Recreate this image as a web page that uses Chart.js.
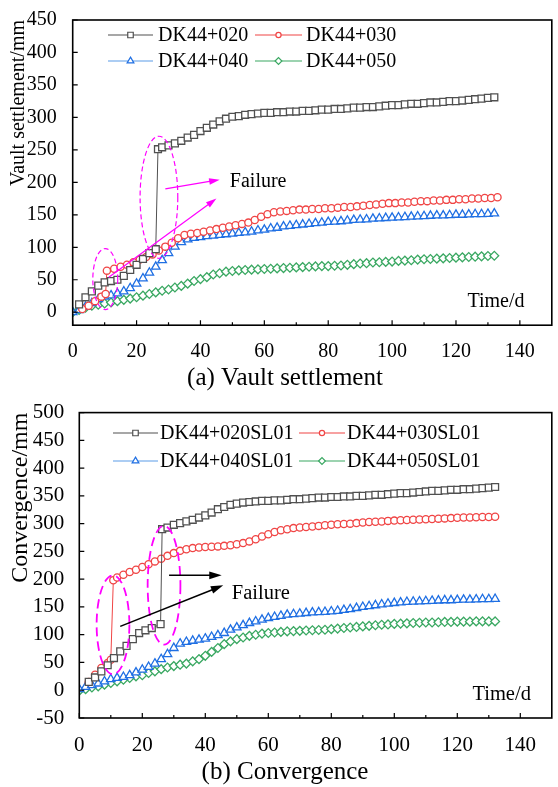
<!DOCTYPE html>
<html>
<head>
<meta charset="utf-8">
<script src="https://cdn.jsdelivr.net/npm/chart.js@4.4.0/dist/chart.umd.min.js"></script>
<style>
  body { margin: 0; background: #fff; width: 558px; }
  canvas { display: block; }
</style>
</head>
<body>
<canvas id="vault" width="558" height="393"></canvas>
<canvas id="conv" width="558" height="394"></canvas>
<script>
// days shared by most series (every 2 days)
var evenDays = [0,2,4,6,8,10,12,14,16,18,20,22,24,26,28,30,32,34,36,38,40,42,44,46,48,50,52,54,56,58,60,62,64,66,
    68,70,72,74,76,78,80,82,84,86,88,90,92,94,96,98,100,102,104,106,108,110,112,114,116,118,120,122,124,126,128,130,132];

// (a) vault settlement, mm
var daysA020 = [2,4,6,8,10,12,14,16,18,20,22,24,26,26.7].concat(evenDays.slice(14));
var vaultA020 = [12,23,32,41,46,48,50,56,65,73,82,91,97,251,
    254,257,260,264,269,273,279,284,289,294,298,301,302,304,305,306,307,307,308,308,
    309,309,310,310,311,312,312,313,313,314,315,315,316,316,317,318,319,319,320,321,
    321,322,323,323,324,325,325,326,327,328,329,330,331];
var daysA030 = [3,5,7,9,10.3,10.7,13,15,17,19,21,23,25,27,29,31,33,35,37,39,41,43,45,47,49,51,53,55,57,59,61,63,65,67,
    69,71,73,75,77,79,81,83,85,87,89,91,93,95,97,99,101,103,105,107,109,111,113,115,117,119,121,123,125,127,129,131,133];
var vaultA030 = [5,10,17,24,28,64,
    67,70,73,77,81,85,89,95,101,107,114,119,121,122,124,126,128,130,132,134,
    136,138,142,147,151,154,155,156,157,158,158,159,159,160,160,161,162,162,163,164,
    165,166,167,168,168,169,169,170,171,171,172,172,173,173,174,174,175,175,176,176,177];
var vaultA040 = [0,3,8,14,20,24,26,29,32,37,44,52,61,70,80,91,101,108,112,114.5,
    115.5,117,118,119,120,121,122,123,124,126,127,129,130,132,133,134,135,136,137,138,
    139,139.5,140,141,142,142.5,143,144,144.5,145,145.5,146,146.5,147,147.5,148,148.5,149,149,149.5,
    150,150,150.5,151,151,151.5,152];
var vaultA050 = [0,3.5,7,10,11.5,13.5,15,17,19,21,23,25.5,28,30.5,33,35,38,40.5,44,48,
    51,54,58,60,62.5,63.5,64.5,65,65.5,66,66.5,67,67.5,68,68.5,69,69.5,70,70.5,71,
    71,71.5,72,73,74,75,75.5,76.5,77,77.5,78,79,79.5,80,81,81.5,82,82.5,83,83.5,
    84,84.5,85,85.5,86,86.5,87];

// (b) convergence, mm
var daysB020 = [3,5,7,9,11,13,15,17,19,21,23,25.8,26.3].concat(evenDays.slice(14));
var convB020 = [15,23,34,45,58,70,80,92,103,108,112,119,290,
    293,298,301,304,307,311,315,320,326,330,334,336,338,339,340,341,341,342,342,343,
    344,344,345,346,347,347,348,348,349,349,350,350,351,352,352,353,354,355,355,356,
    357,358,359,359,360,361,361,362,362,363,364,365,366];
var daysB030 = [3,5,7,9,10,10.8].concat(evenDays.slice(6));
var convB030 = [15,28,40,49,55,198,
    203,208,213,217,222,227,232,237,242,247,251,254,256,257,258,258.5,259,260,261,263,
    265,268,272,277,281,285,288,290,292,293,294,295,296,297,298,299,299.5,300,301,302,
    303,303.5,304,305,305.5,306,306.5,307,307.5,308,308.5,309,309.5,310,310.5,311,311,311.5,312,312,312.5];
var convB040 = [2,6,9,12,16,20,22,24,27,32,37,42,48,56,65,76,84,87,89,91,
    93,96,99,103,109,113,117,121,124,127,130,132,134,136,137,138,139,140,140.5,141,
    142,143,144.5,146,148,150,151.5,153,154.5,156,157,158,159,159.5,160,160.5,161,161.5,162,162,
    162.5,163,163,163.5,164,164,164.5];
var convB050 = [-1,2,5,7,10,13,16,19,22,25,27,31,34,38,41,43.5,46,48,52,56,
    62,69,76,83,88,92,95,98,100,102,103,104,105,106,106.5,107,107.5,108,108.5,109,
    110,111,112,113,114,115,116,117,118,118.5,119.5,120,120.5,121,121.5,122,122,122.5,123,123,
    123.5,123.5,123.5,124,124,124,124];

var SERIF = '"Liberation Serif", "Times New Roman", serif';
Chart.defaults.font.family = SERIF;
Chart.defaults.color = '#000';

function series(label, days, values, color, lineColor, style, radius) {
    return {
        label: label,
        data: days.map(function (d, i) { return { x: d, y: values[i] }; }),
        borderColor: lineColor,
        borderWidth: 1,
        pointStyle: style,
        pointRadius: radius,
        pointBorderColor: color,
        pointBackgroundColor: '#fff',
        pointBorderWidth: 1.3,
        tension: 0
    };
}

function arrow(ctx, x1, y1, x2, y2, head, color, width) {
    var a = Math.atan2(y2 - y1, x2 - x1);
    ctx.strokeStyle = color;
    ctx.fillStyle = color;
    ctx.lineWidth = width;
    ctx.setLineDash([]);
    ctx.beginPath();
    ctx.moveTo(x1, y1);
    ctx.lineTo(x2 - head * 0.8 * Math.cos(a), y2 - head * 0.8 * Math.sin(a));
    ctx.stroke();
    ctx.beginPath();
    ctx.moveTo(x2, y2);
    ctx.lineTo(x2 - head * Math.cos(a - 0.3), y2 - head * Math.sin(a - 0.3));
    ctx.lineTo(x2 - head * Math.cos(a + 0.3), y2 - head * Math.sin(a + 0.3));
    ctx.closePath();
    ctx.fill();
}

// frame, inward ticks, legend, notes and caption
var figureExtras = {
    id: 'figureExtras',
    afterDatasetsDraw: function (chart, args, o) {
        var ctx = chart.ctx, x = chart.scales.x, y = chart.scales.y;
        ctx.save();
        ctx.strokeStyle = '#ff00ff';
        ctx.lineWidth = o.ellipseWidth;
        ctx.setLineDash(o.dash);
        o.ellipses.forEach(function (e) {
            var cx = x.getPixelForValue(e[0]), cy = y.getPixelForValue(e[1]);
            var rx = Math.abs(x.getPixelForValue(e[0] + e[2]) - cx);
            var ry = Math.abs(y.getPixelForValue(e[1] + e[3]) - cy);
            ctx.beginPath();
            ctx.ellipse(cx, cy, rx, ry, 0, 0, Math.PI * 2);
            ctx.stroke();
        });
        o.arrows.forEach(function (a) {
            arrow(ctx, x.getPixelForValue(a[0]), y.getPixelForValue(a[1]),
                x.getPixelForValue(a[2]), y.getPixelForValue(a[3]), o.head, o.arrowColor, o.arrowWidth);
        });
        ctx.restore();
    },
    afterDraw: function (chart, args, o) {
        var ctx = chart.ctx, area = chart.chartArea, x = chart.scales.x, y = chart.scales.y;
        ctx.save();
        ctx.strokeStyle = '#000';
        ctx.lineWidth = 1.2;
        ctx.beginPath();
        x.ticks.forEach(function (t) {
            var px = x.getPixelForValue(t.value);
            ctx.moveTo(px, area.bottom); ctx.lineTo(px, area.bottom - 5);
            if (t.value + 10 < x.max) {
                px = x.getPixelForValue(t.value + 10);
                ctx.moveTo(px, area.bottom); ctx.lineTo(px, area.bottom - 3);
            }
        });
        y.ticks.forEach(function (t) {
            var py = y.getPixelForValue(t.value);
            ctx.moveTo(area.left, py); ctx.lineTo(area.left + 5, py);
        });
        ctx.stroke();
        ctx.lineWidth = 1.6;
        ctx.strokeRect(area.left, area.top, area.right - area.left, area.bottom - area.top);

        // legend, two columns
        ctx.font = o.legendSize + 'px ' + SERIF;
        ctx.textBaseline = 'middle';
        ctx.textAlign = 'left';
        chart.data.datasets.forEach(function (ds, i) {
            var col = o.legendCols[i % 2], ly = o.legendRows[Math.floor(i / 2)];
            ctx.strokeStyle = ds.borderColor;
            ctx.lineWidth = 1.2;
            ctx.beginPath();
            ctx.moveTo(col[0], ly); ctx.lineTo(col[1], ly);
            ctx.stroke();
            ctx.fillStyle = '#fff';
            ctx.strokeStyle = ds.pointBorderColor;
            Chart.helpers.drawPoint(ctx, { pointStyle: ds.pointStyle, radius: ds.pointRadius - 1, rotation: 0, borderWidth: 1.2 },
                (col[0] + col[1]) / 2, ly);
            ctx.fillStyle = '#000';
            ctx.fillText(ds.label, col[2], ly + 1);
        });

        ctx.font = o.noteSize + 'px ' + SERIF;
        o.notes.forEach(function (n) {
            ctx.fillText(n[0], x.getPixelForValue(n[1]), y.getPixelForValue(n[2]));
        });

        ctx.font = o.captionSize + 'px ' + SERIF;
        ctx.textAlign = 'center';
        ctx.fillText(o.caption, o.captionPos[0], o.captionPos[1]);
        ctx.restore();
    }
};

function makeChart(id, datasets, c) {
    return new Chart(document.getElementById(id), {
        type: 'line',
        data: { datasets: datasets },
        options: {
            responsive: false,
            animation: false,
            devicePixelRatio: 1,
            layout: { padding: { top: c.top, right: 1, bottom: 0, left: 0 } },
            plugins: { legend: { display: false }, tooltip: { enabled: false }, figureExtras: c.extras },
            scales: {
                x: {
                    type: 'linear', min: 0, max: 150,
                    grid: { display: false }, border: { display: false },
                    ticks: { stepSize: 20, includeBounds: false, padding: c.xPad, maxRotation: 0, autoSkip: false,
                        font: { size: c.tickSize } },
                    afterFit: function (s) { s.height = c.xHeight; }
                },
                y: {
                    min: c.yMin, max: c.yMax,
                    grid: { display: false }, border: { display: false },
                    ticks: { stepSize: 50, includeBounds: false, padding: c.yPad, autoSkip: false,
                        font: { size: c.tickSize } },
                    title: { display: true, text: c.yTitle, align: 'end', font: { size: c.titleSize },
                        padding: { top: c.titlePad, bottom: 0 } },
                    afterFit: function (s) { s.width = c.yWidth; }
                }
            }
        },
        plugins: [figureExtras]
    });
}

var BLACK = '#505050', RED = '#f04545', BLUE = '#1f6fe3', BLUE_LINE = '#5a9be8', GREEN = '#3aa862';

makeChart('vault', [
    series('DK44+020', daysA020, vaultA020, BLACK, BLACK, 'rect', 4.9),
    series('DK44+030', daysA030, vaultA030, RED, RED, 'circle', 3.6),
    series('DK44+040', evenDays, vaultA040, BLUE, BLUE_LINE, 'triangle', 4.9),
    series('DK44+050', evenDays, vaultA050, GREEN, GREEN, 'rectRot', 4.4)
], {
    top: 14, xHeight: 67.8, yWidth: 72.7, yMin: -20, yMax: 450,
    tickSize: 20, xPad: 7, yPad: 8, yTitle: 'Vault settlement/mm', titleSize: 20, titlePad: 6.5,
    extras: {
        legendSize: 20, legendRows: [35, 61], legendCols: [[108, 153, 158], [255, 302, 306]],
        ellipses: [[10.2, 51, 3.9, 47], [27, 177, 5.9, 94]], dash: [5, 3], ellipseWidth: 1.2,
        arrows: [[29, 190, 46, 204], [11.3, 54, 45, 175]], head: 11, arrowColor: '#ff00ff', arrowWidth: 1.2,
        noteSize: 20, notes: [['Failure', 49.2, 201], ['Time/d', 123.6, 15.6]],
        captionSize: 25, caption: '(a) Vault settlement', captionPos: [285, 378]
    }
});

makeChart('conv', [
    series('DK44+020SL01', daysB020, convB020, BLACK, BLACK, 'rect', 4.9),
    series('DK44+030SL01', daysB030, convB030, RED, RED, 'circle', 3.6),
    series('DK44+040SL01', evenDays, convB040, BLUE, BLUE_LINE, 'triangle', 4.9),
    series('DK44+050SL01', evenDays, convB050, GREEN, GREEN, 'rectRot', 4.4)
], {
    top: 18, xHeight: 69, yWidth: 79.3, yMin: -50, yMax: 500,
    tickSize: 21, xPad: 7, yPad: 7, yTitle: 'Convergence/mm', titleSize: 24, titlePad: 6,
    extras: {
        legendSize: 20, legendRows: [40, 68], legendCols: [[113, 158, 160], [299, 345, 347]],
        ellipses: [[10.7, 118, 5.2, 89], [26.9, 189, 5.2, 107]], dash: [9, 5], ellipseWidth: 1.8,
        arrows: [[28.5, 207, 45.2, 207], [13, 115, 45.7, 189]], head: 13, arrowColor: '#000', arrowWidth: 1.6,
        noteSize: 20.5, notes: [['Failure', 48.4, 174.5], ['Time/d', 124.8, -7]],
        captionSize: 25, caption: '(b) Convergence', captionPos: [285, 379]
    }
});
</script>
</body>
</html>
